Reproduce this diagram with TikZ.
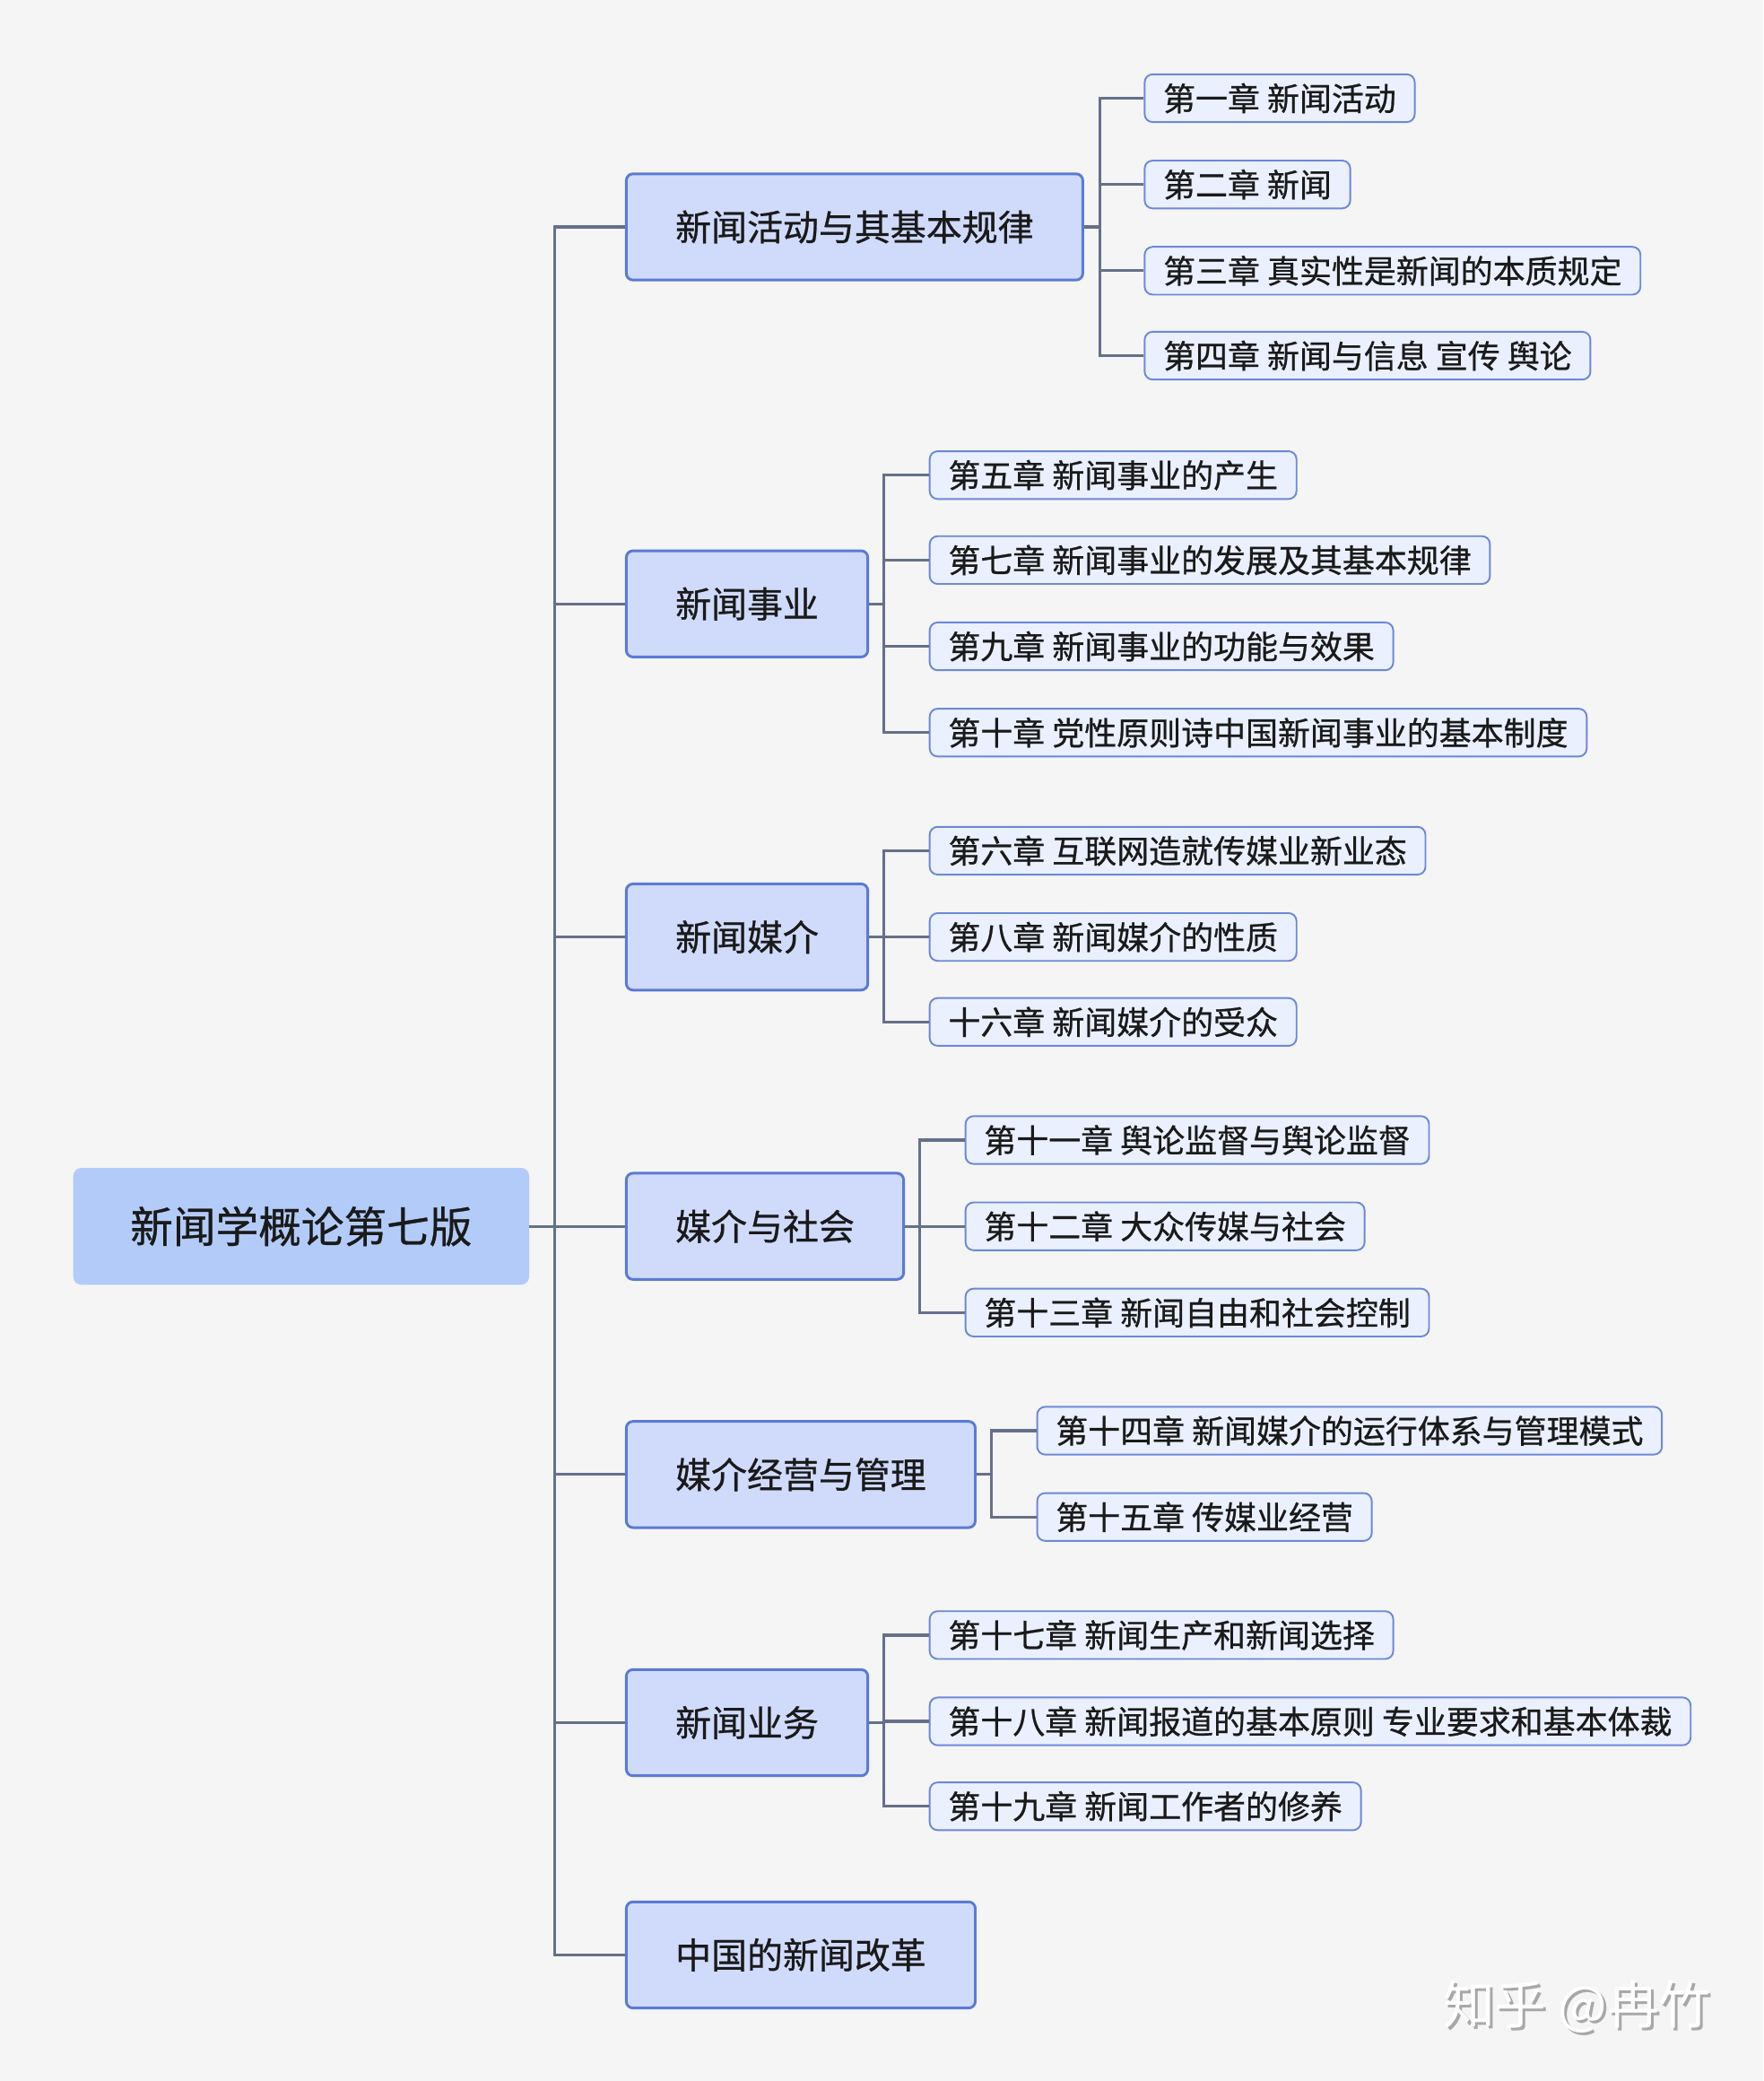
\documentclass[tikz,border=0pt]{standalone}
\usepackage{fontspec}
\newfontfamily\cjk[FakeBold=0.7]{Noto Sans CJK SC}
\newfontfamily\cjkwm{Noto Sans CJK SC}
\usetikzlibrary{calc}
\definecolor{bg}{HTML}{F5F5F5}
\definecolor{rootfill}{HTML}{B3CBF8}
\definecolor{lonefill}{HTML}{D0DBFB}
\definecolor{lonedraw}{HTML}{5A7AD5}
\definecolor{ltwofill}{HTML}{EAF0FD}
\definecolor{ltwodraw}{HTML}{6C88D8}
\definecolor{linec}{HTML}{65708A}
\definecolor{txt}{HTML}{1A1A1A}
\definecolor{wmshadow}{HTML}{A8A8A8}
\begin{document}
\begin{tikzpicture}[x=1pt,y=-1pt,
 rootbox/.style={fill=rootfill, rounded corners=6pt, minimum height=88pt, inner xsep=43pt, anchor=west, font=\cjk\fontsize{32.2}{36}\selectfont, text=txt},
 topic/.style={fill=lonefill, draw=lonedraw, line width=2pt, rounded corners=5pt, minimum height=80pt, inner xsep=37pt, anchor=west, font=\cjk\fontsize{27}{30}\selectfont, text=txt},
 leaf/.style={fill=ltwofill, draw=ltwodraw, line width=1.3pt, rounded corners=6pt, minimum height=36pt, inner xsep=14pt, anchor=west, font=\cjk\fontsize{24.3}{28}\selectfont, text=txt},
 conn/.style={draw=linec, line width=2.2pt},
 wm/.style={font=\cjkwm\fontsize{39}{42}\selectfont, anchor=west}]
\fill[bg] (0,0) rectangle (1329,1568);
\useasboundingbox (0,0) rectangle (1329,1568);

% root
\node[rootbox] (root) at (55,924) {新闻学概论第七版};

% level 1
\node[topic] (t1) at (471,171) {新闻活动与其基本规律};
\node[topic] (t2) at (471,455) {新闻事业};
\node[topic] (t3) at (471,706) {新闻媒介};
\node[topic] (t4) at (471,924) {媒介与社会};
\node[topic] (t5) at (471,1111) {媒介经营与管理};
\node[topic] (t6) at (471,1298) {新闻业务};
\node[topic] (t7) at (471,1473) {中国的新闻改革};

% trunk
\coordinate (trunk) at (418,924);
\foreach \t in {t1,t2,t3,t4,t5,t6,t7}
  \draw[conn] (root.east) -- (trunk) |- (\t.west);

% group 1
\node[leaf] (a1) at (862,74) {第一章 新闻活动};
\node[leaf] (a2) at (862,139) {第二章 新闻};
\node[leaf] (a3) at (862,204) {第三章 真实性是新闻的本质规定};
\node[leaf] (a4) at (862,268) {第四章 新闻与信息 宣传 舆论};
\coordinate (b1) at (829,171);
\foreach \c in {a1,a2,a3,a4}
  \draw[conn] (t1.east) -- (b1) |- (\c.west);

% group 2
\node[leaf] (c1) at (700,358) {第五章 新闻事业的产生};
\node[leaf] (c2) at (700,422) {第七章 新闻事业的发展及其基本规律};
\node[leaf] (c3) at (700,487) {第九章 新闻事业的功能与效果};
\node[leaf] (c4) at (700,552) {第十章 党性原则诗中国新闻事业的基本制度};
\coordinate (b2) at (666,455);
\foreach \c in {c1,c2,c3,c4}
  \draw[conn] (t2.east) -- (b2) |- (\c.west);

% group 3
\node[leaf] (d1) at (700,641) {第六章 互联网造就传媒业新业态};
\node[leaf] (d2) at (700,706) {第八章 新闻媒介的性质};
\node[leaf] (d3) at (700,770) {十六章 新闻媒介的受众};
\coordinate (b3) at (666,706);
\foreach \c in {d1,d2,d3}
  \draw[conn] (t3.east) -- (b3) |- (\c.west);

% group 4
\node[leaf] (e1) at (727,859) {第十一章 舆论监督与舆论监督};
\node[leaf] (e2) at (727,924) {第十二章 大众传媒与社会};
\node[leaf] (e3) at (727,989) {第十三章 新闻自由和社会控制};
\coordinate (b4) at (693,924);
\foreach \c in {e1,e2,e3}
  \draw[conn] (t4.east) -- (b4) |- (\c.west);

% group 5
\node[leaf] (f1) at (781,1078) {第十四章 新闻媒介的运行体系与管理模式};
\node[leaf] (f2) at (781,1143) {第十五章 传媒业经营};
\coordinate (b5) at (747,1111);
\foreach \c in {f1,f2}
  \draw[conn] (t5.east) -- (b5) |- (\c.west);

% group 6
\node[leaf] (g1) at (700,1232) {第十七章 新闻生产和新闻选择};
\node[leaf] (g2) at (700,1297) {第十八章 新闻报道的基本原则 专业要求和基本体裁};
\node[leaf] (g3) at (700,1361) {第十九章 新闻工作者的修养};
\coordinate (b6) at (666,1298);
\foreach \c in {g1,g2,g3}
  \draw[conn] (t6.east) -- (b6) |- (\c.west);

% watermark
\node[wm, text=wmshadow] (wmshade) at (1086,1514) {知乎 @冉竹};
\node[wm, text=white] (wmtext) at (1084,1512) {知乎 @冉竹};
\end{tikzpicture}
\end{document}
